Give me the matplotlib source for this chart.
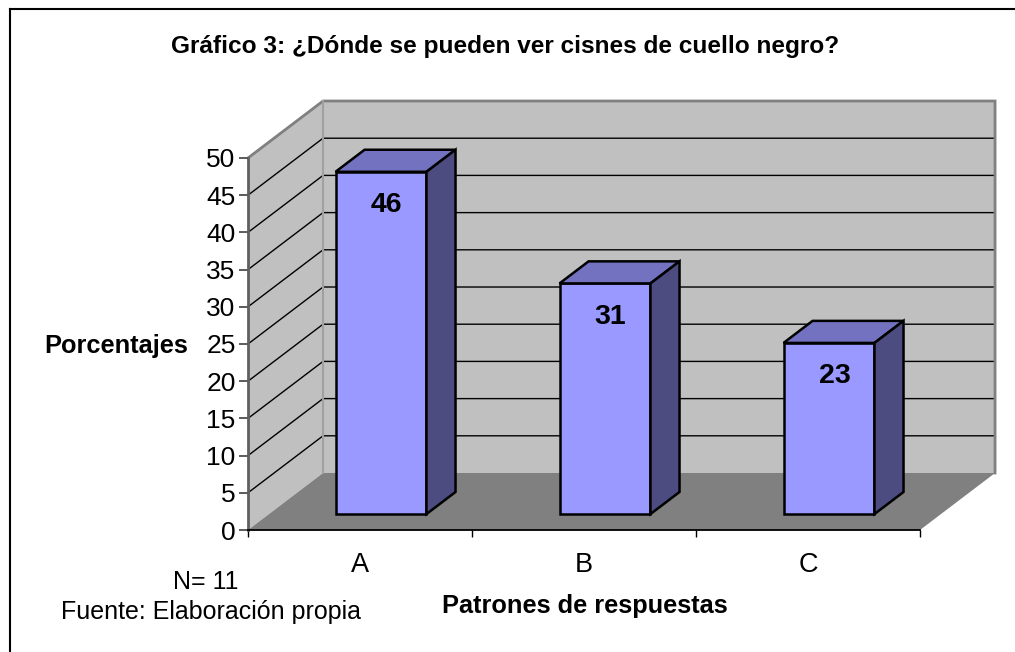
import matplotlib.pyplot as plt
from matplotlib.lines import Line2D

plt.rcParams["font.family"] = ["Liberation Sans", "DejaVu Sans"]

# data
categories = ["A", "B", "C"]
values = [46, 31, 23]
yticks = list(range(0, 51, 5))

title = "Gráfico 3: ¿Dónde se pueden ver cisnes de cuello negro?"
ylabel = "Porcentajes"
xlabel = "Patrones de respuestas"
note_n = "N= 11"
note_src = "Fuente: Elaboración propia"

# 3d look (data units of the front plane)
DX = 0.335   # full depth, category units
DY = 7.66    # full depth, value units
F1, F2 = 0.28, 0.667   # bar front / back depth fraction
BAR_W = 0.406

C_FRONT = "#9999FF"
C_TOP = "#7272C0"
C_SIDE = "#4C4C80"
C_WALL = "#C0C0C0"
C_FLOOR = "#808080"

fig = plt.figure(figsize=(10.15, 6.52), dpi=100)
fig.patch.set_facecolor("white")
W, H = 1015, 652
ax = fig.add_axes([248 / W, 1 - 530 / H, 672 / W, 372 / H])
ax.set_xlim(0, len(categories))
ax.set_ylim(0, 50)
ax.patch.set_alpha(0)

n = len(categories)
top = yticks[-1]

# walls and floor
ax.fill([0, DX, DX, 0], [0, DY, top + DY, top], color=C_WALL, lw=0, clip_on=False, zorder=1)
ax.fill([DX, n + DX, n + DX, DX], [DY, DY, top + DY, top + DY], color=C_WALL, lw=0, clip_on=False, zorder=1)
ax.fill([0, n, n + DX, DX], [0, 0, DY, DY], color=C_FLOOR, lw=0, clip_on=False, zorder=1)
for v in yticks[1:-1]:
    ax.plot([0, DX, n + DX], [v, v + DY, v + DY], color="black", lw=1, clip_on=False, zorder=1.2)
ax.plot([0, DX, n + DX, n + DX], [top, top + DY, top + DY, DY], color="#808080", lw=2,
        clip_on=False, zorder=1.3, solid_joinstyle="miter")
ax.plot([DX, DX], [DY, top + DY], color="#A0A0A0", lw=1.5, clip_on=False, zorder=1.3)

# bars
for i, v in enumerate(values):
    x0 = i + 0.5 - BAR_W / 2 + F1 * DX
    x1 = x0 + BAR_W
    y0 = F1 * DY
    ddx = (F2 - F1) * DX
    ddy = (F2 - F1) * DY
    kw = dict(ec="black", lw=1.8, clip_on=False, zorder=3, joinstyle="miter")
    ax.fill([x0, x1, x1, x0], [y0, y0, y0 + v, y0 + v], fc=C_FRONT, **kw)
    ax.fill([x0, x1, x1 + ddx, x0 + ddx], [y0 + v, y0 + v, y0 + v + ddy, y0 + v + ddy], fc=C_TOP, **kw)
    ax.fill([x1, x1 + ddx, x1 + ddx, x1], [y0, y0 + ddy, y0 + v + ddy, y0 + v], fc=C_SIDE, **kw)
    ax.text((x0 + x1) / 2 + 0.025, y0 + v - 4.5, str(v), ha="center", va="center",
            fontsize=20.5, fontweight="bold", zorder=4)

# axes
for s in ["top", "right"]:
    ax.spines[s].set_visible(False)
ax.spines["left"].set_color("#606060")
ax.spines["left"].set_linewidth(2)
ax.spines["bottom"].set_color("black")
ax.spines["bottom"].set_linewidth(1.3)
ax.set_yticks(yticks)
ax.tick_params(axis="y", length=6.5, width=1.2, color="#404040", pad=2.5, labelsize=19)
ax.set_xticks(range(n + 1))
ax.set_xticklabels([])
ax.tick_params(axis="x", which="major", length=5, width=1, color="black")
ax.set_xticks([i + 0.5 for i in range(n)], minor=True)
ax.set_xticklabels(categories, minor=True)
ax.tick_params(axis="x", which="minor", length=0, pad=15.5, labelsize=19.5)

# texts
fig.text(505 / W, 1 - 47 / H, title, ha="center", va="center", fontsize=17.6, fontweight="bold")
fig.text(116 / W, 1 - 346 / H, ylabel, ha="center", va="center", fontsize=18.3, fontweight="bold")
fig.text(585 / W, 1 - 606 / H, xlabel, ha="center", va="center", fontsize=18.3, fontweight="bold")
fig.text(206 / W, 1 - 582 / H, note_n, ha="center", va="center", fontsize=18)
fig.text(211 / W, 1 - 612 / H, note_src, ha="center", va="center", fontsize=18)

# chart frame (cut at right and bottom)
fig.add_artist(Line2D([10 / W, 1], [1 - 9 / H, 1 - 9 / H], color="black", lw=1.5, transform=fig.transFigure))
fig.add_artist(Line2D([10 / W, 10 / W], [1 - 9 / H, 0], color="black", lw=1.5, transform=fig.transFigure))

fig.savefig("out.png", dpi=100)
